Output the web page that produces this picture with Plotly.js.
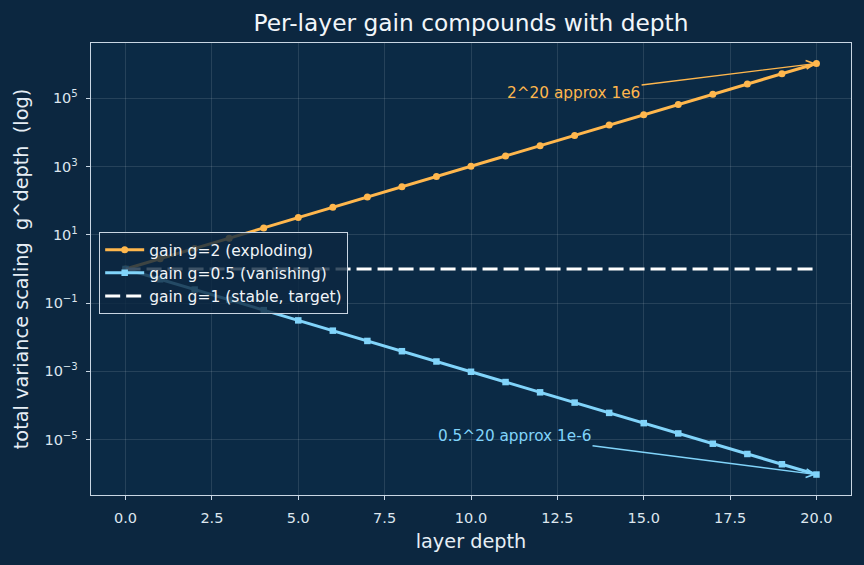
<!DOCTYPE html>
<html>
<head>
<meta charset="utf-8">
<script src="https://cdn.plot.ly/plotly-3.0.1.min.js"></script>
<style>
  html, body { margin: 0; padding: 0; background: #0c2740; }
  #chart { width: 864px; height: 565px; }
</style>
</head>
<body>
<div id="chart"></div>
<script>
// Layer index (depth) and the cumulative variance factor g^depth for each gain
const depth = [0, 1, 2, 3, 4, 5, 6, 7, 8, 9, 10, 11, 12, 13, 14, 15, 16, 17, 18, 19, 20];
const gainTwo = [1, 2, 4, 8, 16, 32, 64, 128, 256, 512, 1024, 2048, 4096, 8192, 16384,
                 32768, 65536, 131072, 262144, 524288, 1048576];
const gainHalf = [1, 0.5, 0.25, 0.125, 0.0625, 0.03125, 0.015625, 0.0078125, 0.00390625,
                  0.001953125, 0.0009765625, 0.00048828125, 0.000244140625, 0.0001220703125,
                  6.103515625e-5, 3.0517578125e-5, 1.52587890625e-5, 7.62939453125e-6,
                  3.814697265625e-6, 1.9073486328125e-6, 9.5367431640625e-7];
const gainOne = [1, 1, 1, 1, 1, 1, 1, 1, 1, 1, 1, 1, 1, 1, 1, 1, 1, 1, 1, 1, 1];

const seriesNames = ['gain g=2 (exploding)', 'gain g=0.5 (vanishing)', 'gain g=1 (stable, target)'];
const yTickVals = [1e-5, 1e-3, 1e-1, 1e1, 1e3, 1e5];
const yTickText = ['10<sup>−5</sup>', '10<sup>−3</sup>', '10<sup>−1</sup>',
                   '10<sup>1</sup>', '10<sup>3</sup>', '10<sup>5</sup>'];
const noteTwo = '2^20 approx 1e6';
const noteHalf = '0.5^20 approx 1e-6';

const ORANGE = '#ffb74d';
const BLUE = '#81d4fa';
const FRAME = '#c9d6e3';
const GRID = 'rgba(255,255,255,0.14)';
const FONT = 'DejaVu Sans, sans-serif';

const traces = [
  {
    x: depth, y: gainTwo, name: seriesNames[0], type: 'scatter', mode: 'lines+markers',
    line: { color: ORANGE, width: 3 },
    marker: { color: ORANGE, size: 7, symbol: 'circle' }
  },
  {
    x: depth, y: gainHalf, name: seriesNames[1], type: 'scatter', mode: 'lines+markers',
    line: { color: BLUE, width: 3 },
    marker: { color: BLUE, size: 6.5, symbol: 'square' }
  },
  {
    x: depth, y: gainOne, name: seriesNames[2], type: 'scatter', mode: 'lines',
    line: { color: '#ffffff', width: 3, dash: '15px,6px' }
  }
];

const last = depth.length - 1;

const layout = {
  width: 864, height: 565,
  paper_bgcolor: '#0c2740',
  plot_bgcolor: '#0b2a45',
  margin: { l: 91, r: 13, t: 43, b: 70 },
  font: { family: FONT, color: '#e6eef5' },
  title: {
    text: 'Per-layer gain compounds with depth',
    font: { family: FONT, size: 23.3, color: '#f2f6fa' },
    x: (91 + 851) / 2 / 864, xanchor: 'center',
    y: 1 - 23 / 565, yref: 'container', yanchor: 'middle'
  },
  xaxis: {
    range: [-1, 21],
    tickmode: 'linear', tick0: 0, dtick: 2.5, tickformat: '.1f',
    ticks: 'outside', ticklen: 4, tickwidth: 1, tickcolor: FRAME,
    ticklabelstandoff: 5,
    tickfont: { family: FONT, size: 14.5, color: '#dde6ee' },
    showgrid: true, gridcolor: GRID, gridwidth: 0.8,
    zeroline: false,
    showline: true, mirror: true, linecolor: FRAME, linewidth: 1.3,
    title: { text: 'layer depth', font: { family: FONT, size: 19.3, color: '#e6eef5' }, standoff: 9 }
  },
  yaxis: {
    type: 'log',
    range: [-6.62, 6.62],
    tickmode: 'array', tickvals: yTickVals, ticktext: yTickText,
    ticks: 'outside', ticklen: 4, tickwidth: 1, tickcolor: FRAME,
    ticklabelstandoff: 5,
    tickfont: { family: FONT, size: 14.5, color: '#dde6ee' },
    showgrid: true, gridcolor: GRID, gridwidth: 0.8,
    zeroline: false,
    showline: true, mirror: true, linecolor: FRAME, linewidth: 1.3,
    title: { text: 'total variance scaling  g^depth  (log)', font: { family: FONT, size: 19.3, color: '#e6eef5' }, standoff: 10 }
  },
  legend: {
    x: 0.0105, y: 0.582, xanchor: 'left', yanchor: 'top',
    bgcolor: 'rgba(12,39,64,0.8)',
    bordercolor: FRAME, borderwidth: 1.2,
    font: { family: FONT, size: 15.5, color: '#f0f4f8' },
    itemwidth: 39
  },
  annotations: [
    {
      x: depth[last], y: Math.log10(gainTwo[last]), xref: 'x', yref: 'y',
      ax: 12.97, ay: 5.146, axref: 'x', ayref: 'y',
      text: noteTwo, showarrow: true,
      arrowhead: 5, arrowsize: 1.2, arrowwidth: 1.4, arrowcolor: ORANGE,
      font: { family: FONT, size: 15.3, color: ORANGE }
    },
    {
      x: depth[last], y: Math.log10(gainHalf[last]), xref: 'x', yref: 'y',
      ax: 11.26, ay: -4.883, axref: 'x', ayref: 'y',
      text: noteHalf, showarrow: true,
      arrowhead: 5, arrowsize: 1.2, arrowwidth: 1.4, arrowcolor: BLUE,
      font: { family: FONT, size: 15.3, color: BLUE }
    }
  ]
};

Plotly.newPlot('chart', traces, layout, { displayModeBar: false, staticPlot: true });
</script>
</body>
</html>
